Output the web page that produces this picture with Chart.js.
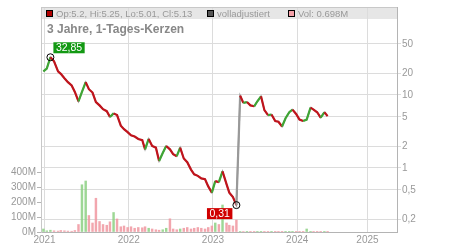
<!DOCTYPE html>
<html>
<head>
<meta charset="utf-8">
<script src="https://cdn.jsdelivr.net/npm/chart.js@4.4.1/dist/chart.umd.min.js"></script>
<style>
html, body { margin: 0; padding: 0; background: #fff; }
#wrap { position: relative; width: 450px; height: 250px; font-family: "Liberation Sans", Arial, sans-serif; }
#chart { position: absolute; left: 0; top: 0; }
.leg { position: absolute; top: 8px; font-size: 9.5px; line-height: 11px; color: #999; white-space: nowrap; }
.leg i { display: inline-block; width: 5px; height: 5px; border: 1px solid #000; margin-right: 3px; vertical-align: 0px; }
#title { position: absolute; left: 47px; top: 22px; font-size: 12px; font-weight: bold; color: #888; }
</style>
</head>
<body>
<div id="wrap">
  <canvas id="chart" width="450" height="250"></canvas>
  <div class="leg" style="left:46px"><i style="background:#b00000"></i>Op:5.2, Hi:5.25, Lo:5.01, Cl:5.13</div>
  <div class="leg" style="left:207px"><i style="background:#555"></i>volladjustiert</div>
  <div class="leg" style="left:288px"><i style="background:#f4a0a8"></i>Vol: 0.698M</div>
  <div id="title">3 Jahre, 1-Tages-Kerzen</div>
</div>
<script>
// sampled roughly twice a month
const dates = [
    '2020-12-27',
    '2021-01-11', '2021-01-27', '2021-02-11', '2021-02-27', '2021-03-11', '2021-03-27', '2021-04-11', '2021-04-27',
    '2021-05-11', '2021-05-27', '2021-06-11', '2021-06-27', '2021-07-11', '2021-07-27', '2021-08-11', '2021-08-27',
    '2021-09-11', '2021-09-27', '2021-10-11', '2021-10-27', '2021-11-11', '2021-11-27', '2021-12-11', '2021-12-27',
    '2022-01-11', '2022-01-27', '2022-02-11', '2022-02-27', '2022-03-11', '2022-03-27', '2022-04-11', '2022-04-27',
    '2022-05-11', '2022-05-27', '2022-06-11', '2022-06-27', '2022-07-11', '2022-07-27', '2022-08-11', '2022-08-27',
    '2022-09-11', '2022-09-27', '2022-10-11', '2022-10-27', '2022-11-11', '2022-11-27', '2022-12-11', '2022-12-27',
    '2023-01-11', '2023-01-27', '2023-02-11', '2023-02-27', '2023-03-11', '2023-03-27', '2023-04-11', '2023-04-27',
    '2023-05-11', '2023-05-27', '2023-06-11', '2023-06-27', '2023-07-11', '2023-07-27', '2023-08-11', '2023-08-27',
    '2023-09-11', '2023-09-27', '2023-10-11', '2023-10-27', '2023-11-11', '2023-11-27', '2023-12-11', '2023-12-27',
    '2024-01-11', '2024-01-27', '2024-02-11', '2024-02-27', '2024-03-11', '2024-03-27', '2024-04-11', '2024-04-27',
    '2024-05-11'
];

const closes = [
    21,
    23, 32.85, 29, 21, 19.5, 17, 15, 13.5, 11, 8.2, 11, 15, 12, 10.8, 8, 7.2,
    6.4, 6.0, 5.0, 5.6, 5.3, 3.8, 3.4, 3.1,
    2.8, 2.7, 2.5, 2.4, 1.8, 2.5, 2.0, 1.9, 1.25, 1.6, 2.0, 1.8, 1.55, 1.45, 1.9, 1.35,
    1.2, 0.95, 0.82, 0.78, 0.72, 0.7, 0.56, 0.46,
    0.66, 0.64, 0.9, 0.6, 0.46, 0.4, 0.31, 9.8, 7.8, 8.0, 7.2, 7.0, 8.2, 9.6, 6.2, 5.3,
    5.4, 4.4, 4.3, 3.7, 4.8, 5.8, 6.3, 5.5,
    4.6, 4.4, 4.6, 6.7, 6.3, 5.8, 4.9, 5.8,
    5.13
];

// volume in millions
const volumes = [
    20,
    8, 12, 8, 6, 10, 8, 6, 5, 10, 50, 315, 340, 110, 60, 225, 70,
    50, 45, 68, 130, 87, 35, 40, 30,
    35, 25, 30, 28, 35, 25, 20, 15, 12, 15, 25, 88, 20, 15, 20, 25,
    30, 20, 25, 30, 25, 20, 30, 40,
    60, 50, 180, 60, 45, 40, 80, 4, 3, 2, 2, 1, 2, 2, 1, 1,
    1, 1, 1, 1, 1, 2, 1, 1,
    1, 1, 20, 2, 2, 1, 1, 1,
    0.7
];

const xTickLabels = ['2021', '2022', '2023', '2024', '2025'];
const xTickMonths = [0, 12, 24, 36, 46]; // reference draws the 2025 line early
const priceTicks = [0.2, 0.5, 1, 2, 5, 10, 20, 50];
const volTicks = [0, 100, 200, 300, 400];

const GREEN = '#3fa535';
const RED = '#c0141c';

function monthOffset(s) {
    const [y, m, d] = s.split('-').map(Number);
    const dim = new Date(y, m, 0).getDate();
    return (y - 2021) * 12 + (m - 1) + (d - 1) / dim;
}

const xs = dates.map(monthOffset);
const pricePoints = xs.map((x, i) => ({ x: x, y: closes[i] }));
const volPoints = xs.map((x, i) => ({ x: x, y: volumes[i] }));
const volColors = closes.map((c, i) => (i === 0 || c >= closes[i - 1]) ? 'rgba(140,208,130,0.85)' : 'rgba(240,150,160,0.85)');

const frame = {
    id: 'frame',
    beforeDraw(chart) {
        const { ctx, chartArea: a } = chart;
        ctx.save();
        ctx.fillStyle = '#e6e6e6';
        ctx.fillRect(a.left, a.top, a.right - a.left, 12);
        ctx.restore();
    },
    afterDraw(chart) {
        const { ctx, chartArea: a } = chart;
        ctx.save();
        ctx.strokeStyle = '#c8c8c8';
        ctx.lineWidth = 1;
        ctx.beginPath();
        ctx.moveTo(a.left, a.top + 0.5);
        ctx.lineTo(a.right, a.top + 0.5);
        ctx.stroke();
        ctx.restore();
    }
};

const extremaLabels = {
    id: 'extremaLabels',
    afterDatasetsDraw(chart) {
        const { ctx } = chart;
        const meta = chart.getDatasetMeta(0);
        const hi = closes.indexOf(Math.max(...closes));
        const lo = closes.indexOf(Math.min(...closes));
        [[hi, '#139913', true], [lo, '#d00000', false]].forEach(([i, col, up]) => {
            const p = meta.data[i];
            ctx.save();
            ctx.beginPath();
            ctx.arc(p.x, p.y, 3.5, 0, Math.PI * 2);
            ctx.strokeStyle = '#000';
            ctx.lineWidth = 1;
            ctx.stroke();
            const txt = String(closes[i]).replace('.', ',');
            ctx.font = '10.5px "Liberation Sans", Arial, sans-serif';
            const w = ctx.measureText(txt).width + 5, h = 11;
            const bx = up ? p.x + 3 : p.x - 4 - w;
            const by = up ? p.y - 4 - h : p.y + 3;
            ctx.fillStyle = col;
            ctx.fillRect(bx, by, w, h);
            ctx.fillStyle = '#fff';
            ctx.textBaseline = 'middle';
            ctx.fillText(txt, bx + 2.5, by + h / 2 + 0.5);
            ctx.restore();
        });
    }
};

const axisFont = { family: '"Liberation Sans", Arial, sans-serif', size: 10 };

new Chart(document.getElementById('chart'), {
    type: 'line',
    data: {
        datasets: [{
            label: 'Kurs',
            data: pricePoints,
            yAxisID: 'y',
            borderColor: GREEN,
            borderWidth: 2.2,
            pointRadius: 0,
            tension: 0,
            order: 0,
            segment: {
                borderColor: c => {
                    const a = c.p0.parsed.y, b = c.p1.parsed.y;
                    if (b / a > 5) return '#999';
                    return b >= a ? GREEN : RED;
                }
            }
        }, {
            label: 'volladjustiert',
            data: pricePoints,
            yAxisID: 'y',
            borderColor: '#999',
            borderWidth: 1.5,
            pointRadius: 0,
            tension: 0,
            order: 1
        }, {
            type: 'bar',
            label: 'Vol',
            data: volPoints,
            yAxisID: 'vol',
            backgroundColor: volColors,
            barThickness: 1.8,
            order: 2
        }]
    },
    options: {
        responsive: false,
        animation: false,
        devicePixelRatio: 1,
        layout: { padding: { top: 7, left: 0, right: 0, bottom: 0 } },
        plugins: { legend: { display: false }, tooltip: { enabled: false } },
        scales: {
            x: {
                type: 'linear',
                offset: false,
                min: -0.5,
                max: 50.21,
                afterBuildTicks: s => { s.ticks = xTickMonths.map(v => ({ value: v })); },
                afterFit: s => { s.height = 18; },
                ticks: {
                    callback: (v, i) => xTickLabels[i],
                    color: '#999', font: axisFont, padding: 2, maxRotation: 0, autoSkip: false
                },
                grid: { color: '#dcdcdc', tickLength: 0, offset: false },
                border: { color: '#b4b4b4' }
            },
            y: {
                type: 'logarithmic',
                position: 'right',
                min: 0.1328,
                max: 160.4,
                afterBuildTicks: s => { s.ticks = priceTicks.map(v => ({ value: v })); },
                afterFit: s => { s.width = 53; },
                ticks: {
                    callback: v => String(v).replace('.', ','),
                    color: '#999', font: axisFont, padding: 1
                },
                grid: { color: '#dcdcdc', tickLength: 4 },
                border: { color: '#b4b4b4' }
            },
            vol: {
                type: 'linear',
                position: 'left',
                min: 0,
                max: 1500,
                afterBuildTicks: s => { s.ticks = volTicks.map(v => ({ value: v })); },
                afterFit: s => { s.width = 41; },
                ticks: {
                    callback: v => v + 'M',
                    color: '#999', font: axisFont, padding: 1
                },
                grid: { drawOnChartArea: false, color: '#b4b4b4', tickLength: 4 },
                border: { color: '#c8c8c8' }
            }
        }
    },
    plugins: [frame, extremaLabels]
});
</script>
</body>
</html>
